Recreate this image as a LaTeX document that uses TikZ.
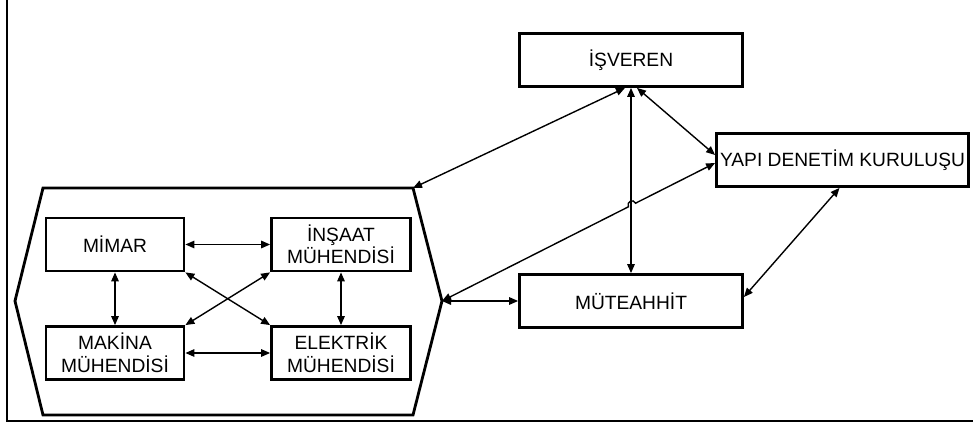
\documentclass[tikz,border=0pt]{standalone}
\usepackage{fontspec}
\setmainfont{Liberation Sans}
\usetikzlibrary{arrows.meta,calc}
\begin{document}
\begin{tikzpicture}[x=1pt,y=-1pt,
  box/.style={draw,line width=2.8pt,inner sep=0pt,align=center,
    font=\fontsize{19.2}{22.5}\selectfont},
  link/.style={line width=1.4pt,
    {Triangle[length=9pt,width=7.5pt]}-{Triangle[length=9pt,width=7.5pt]}},
  hexline/.style={line width=2.8pt,line join=miter},
  frameline/.style={line width=2pt}]
\useasboundingbox (0,0) rectangle (973,427);

% page frame (left and bottom)
\draw[frameline] (7,0) -- (7,421) -- (973,421);

% main parties
\node[box,minimum width=223pt,minimum height=53pt] (isveren) at (631,60) {İŞVEREN};
\node[box,minimum width=252pt,minimum height=53pt] (yapi) at (842.5,160) {YAPI DENETİM KURULUŞU};
\node[box,minimum width=223pt,minimum height=53pt] (muteahhit) at (631,301) {MÜTEAHHİT};

% design team enclosure
\coordinate (hNW) at (43,188);
\coordinate (hNE) at (413,188);
\coordinate (hE)  at (442,301);
\coordinate (hSE) at (413,415);
\coordinate (hSW) at (43,415);
\coordinate (hW)  at (15,301);
\draw[hexline] (hNW) -- (hNE) -- (hE) -- (hSE) -- (hSW) -- (hW) -- cycle;

% design team members
\node[box,minimum width=138pt,minimum height=53pt] (mimar) at (115,244.5) {MİMAR};
\node[box,minimum width=139pt,minimum height=53pt] (insaat) at (341,244.5) {İNŞAAT\\MÜHENDİSİ};
\node[box,minimum width=138pt,minimum height=53pt] (makina) at (115,353) {MAKİNA\\MÜHENDİSİ};
\node[box,minimum width=139pt,minimum height=53pt] (elektrik) at (341,353) {ELEKTRİK\\MÜHENDİSİ};

% links inside the team
\draw[link] (mimar) -- (insaat);
\draw[link] (makina) -- (elektrik);
\draw[link] (mimar) -- (makina);
\draw[link] (insaat) -- (elektrik);
\draw[link] (mimar.south east) -- (elektrik.north west);
\draw[link] (makina.north east) -- (insaat.south west);

% links between the parties
\coordinate (isvL) at ($(isveren.south)+(-6,0)$);
\coordinate (isvR) at ($(isveren.south)+(6,0)$);
\coordinate (yapiU) at ($(yapi.west)+(0,-5)$);
\coordinate (yapiD) at ($(yapi.west)+(0,3)$);
\coordinate (yapiB) at ($(yapi.south)+(-3,0)$);
\coordinate (mutR) at ($(muteahhit.east)+(0,-4)$);

\draw[link] (isvL) -- (hNE);
\draw[link] (isveren.south) -- (muteahhit.north);
\draw[link] (isvR) -- (yapiU);
\draw[link] (hE) -- (muteahhit.west);
\draw[link] (yapiB) -- (mutR);

% line hopping over the vertical link
\coordinate (hopA) at ($(hE)!0.6825!(yapiD)$);
\coordinate (hopB) at ($(hE)!0.7087!(yapiD)$);
\draw[link] (hE) -- (hopA)
  .. controls ($(hopA)+(-2.3,-5)$) and ($(hopB)+(-2.3,-5)$) .. (hopB)
  -- (yapiD);
\end{tikzpicture}
\end{document}
